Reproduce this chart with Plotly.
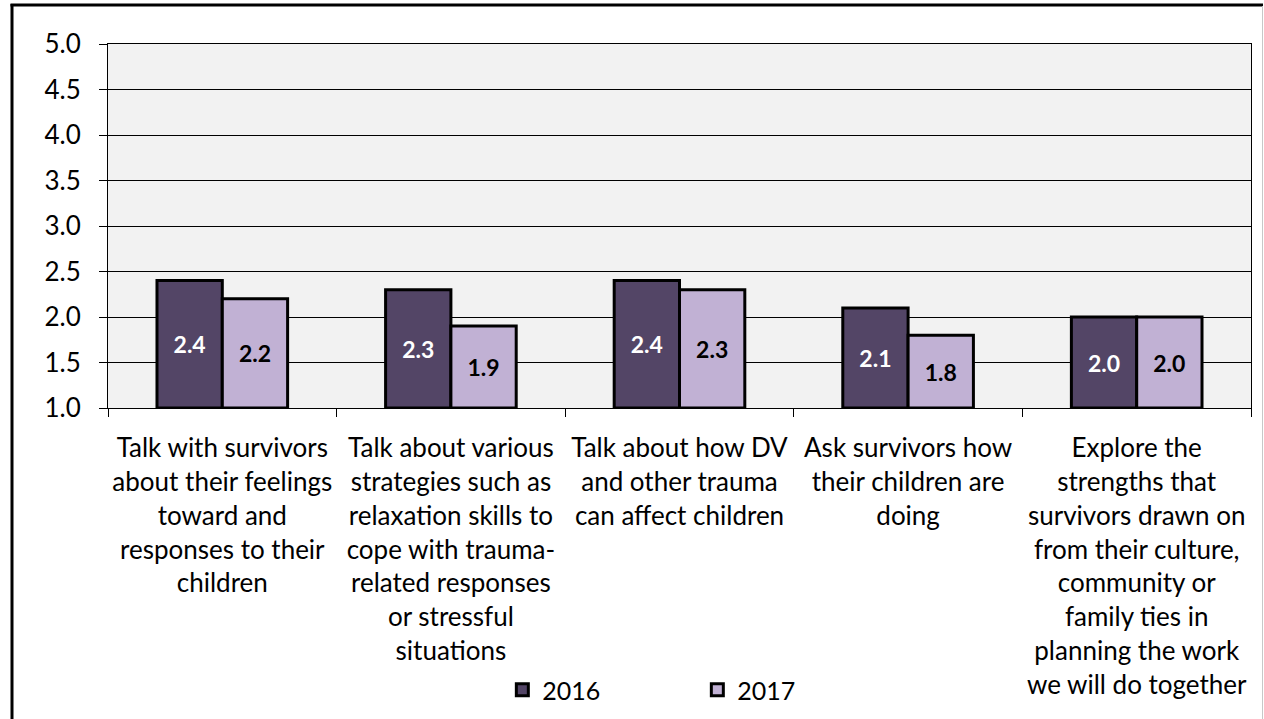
import plotly.graph_objects as go

# Survey items (category labels, pre-wrapped)
categories = [
    "Talk with survivors<br>about their feelings<br>toward and<br>responses to their<br>children",
    "Talk about various<br>strategies such as<br>relaxation skills to<br>cope with trauma-<br>related responses<br>or stressful<br>situations",
    "Talk about how DV<br>and other trauma<br>can affect children",
    "Ask survivors how<br>their children are<br>doing",
    "Explore the<br>strengths that<br>survivors drawn on<br>from their culture,<br>community or<br>family ties in<br>planning the work<br>we will do together",
]
values_2016 = [2.4, 2.3, 2.4, 2.1, 2.0]
values_2017 = [2.2, 1.9, 2.3, 1.8, 2.0]
y_ticks = [1.0, 1.5, 2.0, 2.5, 3.0, 3.5, 4.0, 4.5, 5.0]
AXIS_MIN = 1.0

FONT = "Lato"
W, H = 1264, 719
L, R, T, B = 108, 13, 44, 311

def bar_trace(name, values, fill, text_color):
    # bars rise from the axis floor (1.0) up to each value
    return go.Bar(
        name=name, x=categories,
        y=[v - AXIS_MIN for v in values], base=[AXIS_MIN] * len(values),
        marker=dict(color=fill, line=dict(color="black", width=3)),
        text=[f"{v:.1f}" for v in values], textposition="inside",
        insidetextanchor="middle", textangle=0,
        insidetextfont=dict(family=FONT, size=23, color=text_color, weight="bold"),
        hovertext=[f"{v:.1f}" for v in values], hoverinfo="text+name",
    )

fig = go.Figure()
fig.add_trace(bar_trace("2016", values_2016, "#534566", "white"))
fig.add_trace(bar_trace("2017", values_2017, "#c1b1d4", "black"))

# frame around the chart area (pixel positions converted to paper units)
pw, ph = W - L - R, H - T - B
def px_x(p): return (p - L) / pw
def px_y(p): return (H - B - p) / ph

fig.add_shape(type="line", xref="paper", yref="paper",
              x0=px_x(12), x1=px_x(12), y0=px_y(4), y1=px_y(730),
              line=dict(color="black", width=3))
fig.add_shape(type="line", xref="paper", yref="paper",
              x0=px_x(10.5), x1=px_x(1263), y0=px_y(5), y1=px_y(5),
              line=dict(color="black", width=3))
fig.add_shape(type="line", xref="paper", yref="paper",
              x0=px_x(1262.5), x1=px_x(1262.5), y0=px_y(6), y1=px_y(730),
              line=dict(color="#c8c8c8", width=1))

fig.update_layout(
    width=W, height=H,
    margin=dict(l=L, r=R, t=T, b=B, pad=0, autoexpand=False),
    paper_bgcolor="white", plot_bgcolor="#f2f2f2",
    barmode="group", bargap=0.4286, bargroupgap=0,
    font=dict(family=FONT, size=26, color="black"),
    showlegend=True,
    legend=dict(orientation="h", x=0.345, xanchor="left", y=-0.775, yanchor="middle",
                font=dict(family=FONT, size=25), entrywidth=150,
                bgcolor="rgba(0,0,0,0)"),
    xaxis=dict(
        type="category", tickson="boundaries", ticks="outside", ticklen=8,
        tickcolor="black", tickwidth=1, showline=True, linecolor="black",
        linewidth=1, mirror=True, showgrid=False, tickangle=0,
        ticklabelstandoff=17, automargin=False,
        tickfont=dict(family=FONT, size=26),
    ),
    yaxis=dict(
        range=[1.0, 5.0], tickvals=y_ticks, ticktext=[f"{v:.1f}" for v in y_ticks],
        ticks="outside", ticklen=8, tickcolor="black", showline=True,
        linecolor="black", linewidth=1, mirror=True, showgrid=True,
        gridcolor="black", gridwidth=1, zeroline=False,
        ticklabelstandoff=13, automargin=False,
        tickfont=dict(family=FONT, size=26),
    ),
)

fig.write_html("out.html")
